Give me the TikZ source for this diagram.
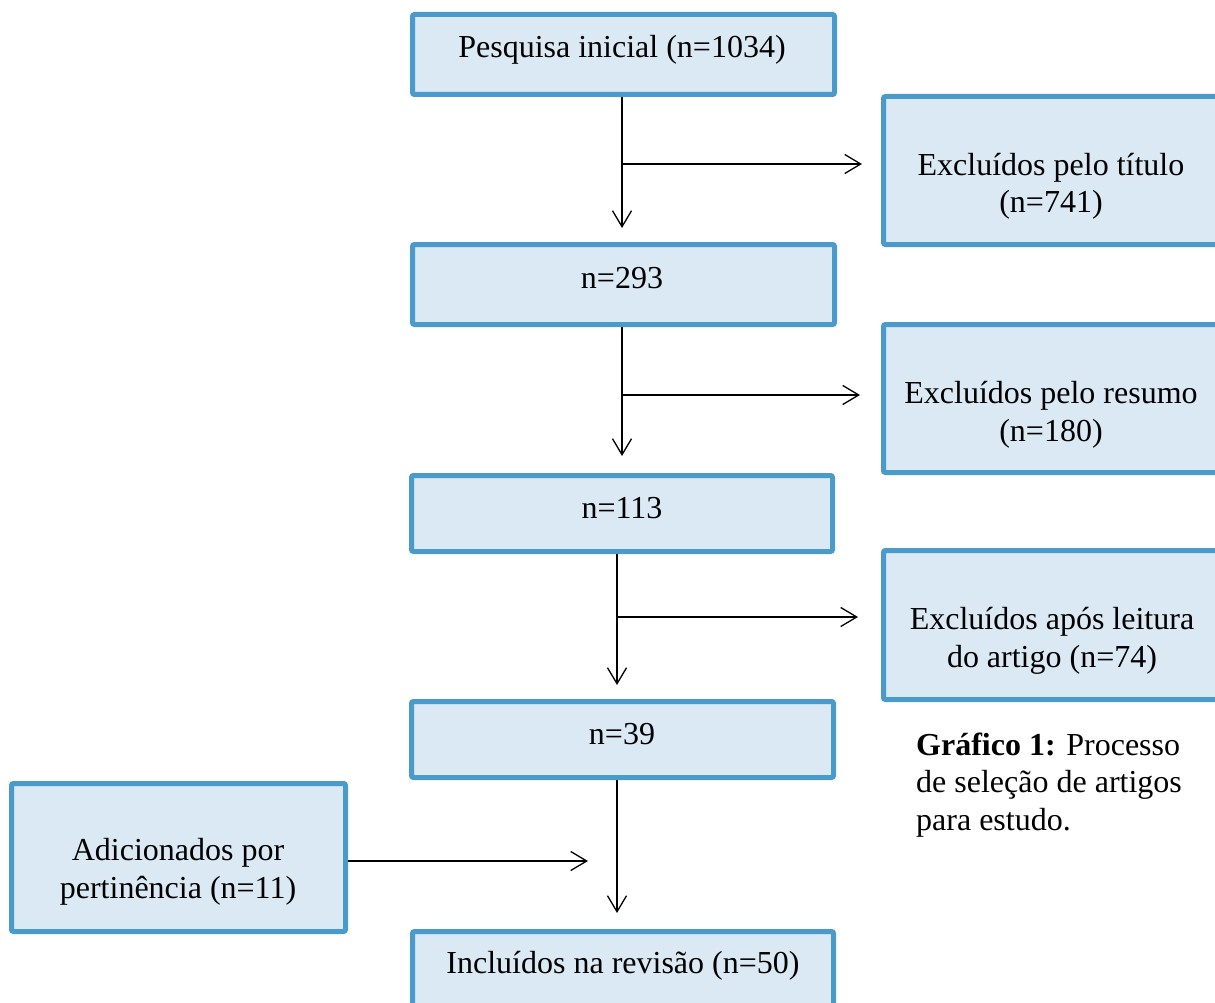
\documentclass[tikz,border=0pt]{standalone}
\usepackage{fontspec}
\setmainfont{Liberation Serif}
\usetikzlibrary{arrows.meta}
\definecolor{boxline}{RGB}{74,155,203}
\definecolor{boxfill}{RGB}{218,233,243}
\tikzset{
  box/.style={draw=boxline, fill=boxfill, line width=5pt, rounded corners=2pt, anchor=north west, inner sep=0pt},
  lbl/.style={font=\fontsize{32}{37.5}\selectfont, inner sep=0pt, align=center, anchor=base},
  captext/.style={font=\fontsize{32}{37.5}\selectfont, inner sep=0pt, align=left, anchor=base west},
  arr/.style={draw=black, line width=1.3pt, -{Straight Barb[length=16pt,width=19pt]}}
}
\begin{document}
\begin{tikzpicture}[x=1pt,y=-1pt]
\useasboundingbox (0,0) rectangle (1215,1003);
\clip (0,0) rectangle (1215,1003);
% main column
\node[box, minimum width=422pt, minimum height=80pt] (b1) at (410,12) {};
\node[box, minimum width=422pt, minimum height=80pt] (b2) at (410,242) {};
\node[box, minimum width=421pt, minimum height=76pt] (b3) at (409,473) {};
\node[box, minimum width=422pt, minimum height=76pt] (b4) at (409,699) {};
\node[box, minimum width=421pt, minimum height=90pt] (b5) at (410,929) {};
% side boxes
\node[box, minimum width=345pt, minimum height=148pt] (r1) at (881,94) {};
\node[box, minimum width=345pt, minimum height=148pt] (r2) at (881,322) {};
\node[box, minimum width=345pt, minimum height=149pt] (r3) at (881,548) {};
\node[box, minimum width=334pt, minimum height=148pt] (l1) at (9,781) {};
% texts
\node[lbl] (t1) at (622,58) {Pesquisa inicial (n=1034)};
\node[lbl] (t2) at (622,288) {n=293};
\node[lbl] (t3) at (622,518) {n=113};
\node[lbl] (t4) at (622,744) {n=39};
\node[lbl] (t5) at (623,973) {Incluídos na revisão (n=50)};
\node[lbl] (tr1) at (1051,213) {Excluídos pelo título\\(n=741)};
\node[lbl] (tr2) at (1051,441) {Excluídos pelo resumo\\(n=180)};
\node[lbl] (tr3) at (1052,667) {Excluídos após leitura\\do artigo (n=74)};
\node[lbl] (tl1) at (178,898) {Adicionados por\\pertinência (n=11)};
\node[captext] (caption) at (916,830) {\textbf{Gráfico 1:} Processo\\de seleção de artigos\\para estudo.};
% connectors
\coordinate (v1) at (622,228);
\coordinate (h1) at (622,164);
\coordinate (e1) at (862,164);
\coordinate (v2) at (622,456);
\coordinate (h2) at (622,395);
\coordinate (e2) at (860,395);
\coordinate (v3) at (617,685);
\coordinate (h3) at (617,617);
\coordinate (e3) at (858,617);
\coordinate (v4) at (617,913);
\coordinate (e4) at (588,861);
\draw[arr] (b1.south -| v1) -- (v1);
\draw[arr] (h1) -- (e1);
\draw[arr] (b2.south -| v2) -- (v2);
\draw[arr] (h2) -- (e2);
\draw[arr] (b3.south -| v3) -- (v3);
\draw[arr] (h3) -- (e3);
\draw[arr] (b4.south -| v4) -- (v4);
\draw[arr] (l1.east |- e4) -- (e4);
\end{tikzpicture}
\end{document}
